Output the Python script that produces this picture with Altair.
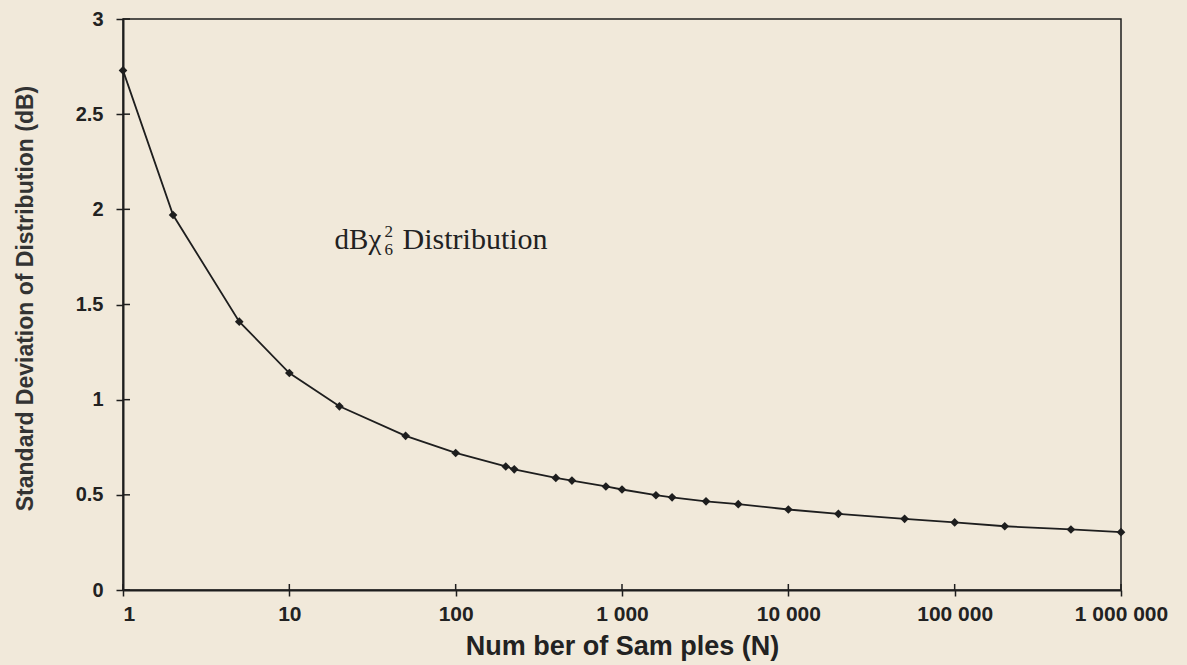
import altair as alt
import pandas as pd

# Data
samples_n = [1, 2, 5, 10, 20, 50, 100, 200, 225, 400, 500, 800, 1000, 1600, 2000,
             3200, 5000, 10000, 20000, 50000, 100000, 200000, 500000, 1000000]
std_db = [2.73, 1.97, 1.41, 1.14, 0.965, 0.81, 0.72, 0.649, 0.634, 0.589, 0.575, 0.544,
          0.528, 0.498, 0.487, 0.466, 0.451, 0.423, 0.400, 0.374, 0.355, 0.335, 0.318, 0.304]

x_ticks = [1, 10, 100, 1000, 10000, 100000, 1000000]
x_tick_labels = ["1", "10", "100", "1 000", "10 000", "100 000", "1 000 000"]
y_ticks = [0, 0.5, 1, 1.5, 2, 2.5, 3]
y_tick_labels = ["0", "0.5", "1", "1.5", "2", "2.5", "3"]

df = pd.DataFrame({"N": samples_n, "sd": std_db})
xt = pd.DataFrame({"N": x_ticks})
yt = pd.DataFrame({"v": y_ticks})

W, H = 998, 571
INK = "#1e1e1e"
SANS = "Liberation Sans, Arial, sans-serif"

xscale = alt.Scale(type="log", domain=[1, 1000000], nice=False)
yscale = alt.Scale(domain=[0, 3], nice=False, zero=False)

label_map = "{" + ",".join(f"'{v}':'{l}'" for v, l in zip(x_ticks, x_tick_labels)) + "}"
ylabel_map = "{" + ",".join(f"'{v}':'{l}'" for v, l in zip(y_ticks, y_tick_labels)) + "}"

xaxis = alt.Axis(values=x_ticks, labelExpr=f"{label_map}[toString(datum.value)]",
                 title="Num ber of Sam ples (N)", grid=False, tickSize=6, tickWidth=1.5,
                 tickColor=INK, domainColor=INK, domainWidth=1.8,
                 labelFlush=False,
                 labelAlign={"condition": {"test": "datum.value == 1", "value": "left"},
                             "value": "center"},
                 labelFont=SANS, labelFontSize=21, labelFontWeight="bold",
                 labelColor="#222", labelPadding=7,
                 titleFont=SANS, titleFontSize=27, titleFontWeight="bold",
                 titleColor="#222", titlePadding=9)
yaxis = alt.Axis(values=y_ticks, labelExpr=f"{ylabel_map}[toString(datum.value)]",
                 title="Standard Deviation of Distribution (dB)", grid=False, tickSize=7,
                 tickWidth=1.5, tickColor=INK, domainColor=INK, domainWidth=2,
                 labelFont=SANS, labelFontSize=20, labelFontWeight="bold",
                 labelColor="#222", labelPadding=13,
                 titleFont=SANS, titleFontSize=23, titleFontWeight="bold",
                 titleColor="#333", titleAngle=270, titleX=-91, titleY=279,
                 titleBaseline="alphabetic", titleAlign="center")

line = alt.Chart(df).mark_line(color=INK, strokeWidth=1.8).encode(
    x=alt.X("N:Q", scale=xscale, axis=xaxis),
    y=alt.Y("sd:Q", scale=yscale, axis=yaxis),
)
pts = alt.Chart(df).mark_point(shape="diamond", filled=True, color=INK, size=75, opacity=1).encode(
    x=alt.X("N:Q", scale=xscale),
    y=alt.Y("sd:Q", scale=yscale),
)

# inward halves of the crossing tick marks
yin = alt.Chart(yt).mark_rule(color=INK, strokeWidth=1.5).encode(
    y=alt.Y("v:Q", scale=yscale), x=alt.value(0), x2=alt.value(7))
xin = alt.Chart(xt).mark_rule(color=INK, strokeWidth=1.5).encode(
    x=alt.X("N:Q", scale=xscale), y=alt.value(H), y2=alt.value(H - 6))

# annotation: dB chi^2_6 Distribution
ann_x, ann_y = 18.7, 1.79
serif = "Liberation Serif, Times New Roman, serif"
TXT = "#222222"
t1 = alt.Chart(pd.DataFrame({"t": ["dBχ"]})).mark_text(
    font=serif, fontSize=29, align="left", baseline="alphabetic", color=TXT).encode(
    x=alt.datum(ann_x), y=alt.datum(ann_y), text="t:N")
t2 = alt.Chart(pd.DataFrame({"t": ["2"]})).mark_text(
    font=serif, fontSize=17, align="left", baseline="alphabetic", color=TXT, dx=50, dy=-12).encode(
    x=alt.datum(ann_x), y=alt.datum(ann_y), text="t:N")
t3 = alt.Chart(pd.DataFrame({"t": ["6"]})).mark_text(
    font=serif, fontSize=17, align="left", baseline="alphabetic", color=TXT, dx=50, dy=6).encode(
    x=alt.datum(ann_x), y=alt.datum(ann_y), text="t:N")
t4 = alt.Chart(pd.DataFrame({"t": ["Distribution"]})).mark_text(
    font=serif, fontSize=30, align="left", baseline="alphabetic", color=TXT, dx=68).encode(
    x=alt.datum(ann_x), y=alt.datum(ann_y), text="t:N")

chart = alt.layer(line, pts, yin, xin, t1, t2, t3, t4).properties(
    width=W, height=H,
    autosize=alt.AutoSizeParams(type="none"),
    padding={"left": 123, "top": 19, "right": 66, "bottom": 75},
    background="#F1E9DA",
).configure_view(stroke=INK, strokeWidth=1.5)

chart.save("out.html", embed_options={"renderer": "svg", "actions": False})
